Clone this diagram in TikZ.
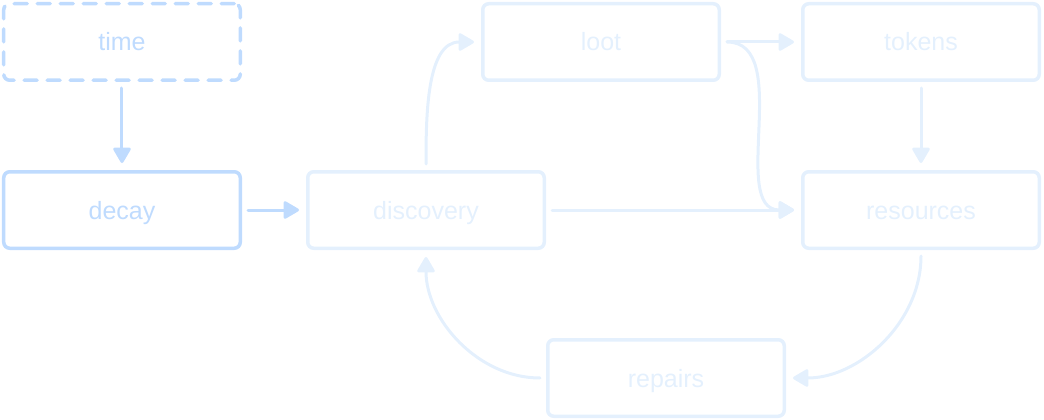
\documentclass[tikz,border=0pt]{standalone}
\usepackage{fontspec}
\setmainfont{Liberation Sans}
\usepackage{tikz}
\usetikzlibrary{arrows.meta, positioning, calc}
\definecolor{strong}{HTML}{BFDBFE}
\definecolor{faint}{HTML}{E4F0FD}
\tikzset{
  box/.style={draw, rounded corners=6pt, align=center, line width=3.5pt,
    minimum width=236.5pt, minimum height=76.5pt, inner sep=0pt,
    text height=18pt, text depth=0pt,
    font=\fontsize{25}{29}\selectfont},
  hot/.style={box, draw=strong, text=strong},
  cold/.style={box, draw=faint, text=faint},
  arr/.style={-{Triangle[length=17pt, width=19pt, round]}, line width=3pt,
    line cap=round, shorten <=6pt, shorten >=7pt},
}
\begin{document}
\begin{tikzpicture}[node distance=88pt]
  \node[hot, dash pattern=on 13pt off 10pt, line cap=round] (time) {time};
  \node[hot, below=of time] (decay) {decay};
  \node[cold, right=64pt of decay] (discovery) {discovery};
  \node[cold, right=255pt of discovery] (resources) {resources};
  \node[cold, above=of resources] (tokens) {tokens};
  \node[cold, left=80pt of tokens] (loot) {loot};
  \node[cold, below right=88pt and 0pt of discovery] (repairs) {repairs};
  \useasboundingbox ($(time.north west)+(-2pt,2pt)$) rectangle ++(1044pt,-420pt);
  \draw[arr, strong] (time) -- (decay);
  \draw[arr, strong] (decay) -- (discovery);
  \draw[arr, faint] (discovery.north) to[out=90, in=180] (loot.west);
  \draw[arr, faint] (loot) -- (tokens);
  \draw[arr, faint] (loot.east) to[out=0, in=180] (resources.west);
  \draw[arr, faint] (discovery) -- (resources);
  \draw[arr, faint] (tokens) -- (resources);
  \draw[arr, faint] (resources.south) to[out=-90, in=0] (repairs.east);
  \draw[arr, faint] (repairs.west) to[out=180, in=-90] (discovery.south);
\end{tikzpicture}
\end{document}
